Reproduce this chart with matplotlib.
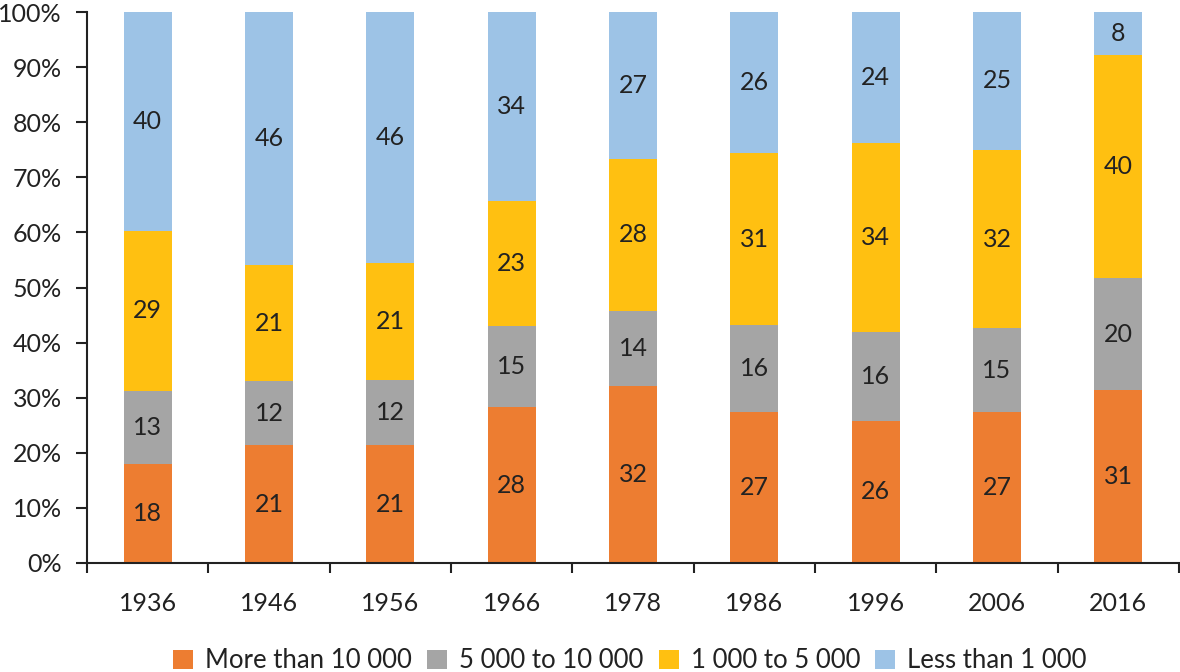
import matplotlib
matplotlib.use("Agg")
import matplotlib.pyplot as plt
import numpy as np
from matplotlib.patches import Patch

plt.rcParams["font.family"] = ["Lato", "DejaVu Sans"]

years = ["1936", "1946", "1956", "1966", "1978", "1986", "1996", "2006", "2016"]
series_names = ["More than 10 000", "5 000 to 10 000", "1 000 to 5 000", "Less than 1 000"]
more_10000 = [18.0, 21.4, 21.4, 28.3, 32.1, 27.4, 25.8, 27.4, 31.4]
from_5000_10000 = [13.2, 11.6, 11.8, 14.7, 13.7, 15.8, 16.1, 15.2, 20.3]
from_1000_5000 = [29.1, 21.1, 21.2, 22.7, 27.6, 31.2, 34.3, 32.4, 40.5]
less_1000 = [39.7, 45.9, 45.6, 34.3, 26.6, 25.6, 23.8, 25.0, 7.8]
colors = ["#ED7D31", "#A5A5A5", "#FFC011", "#9DC3E6"]

series = [more_10000, from_5000_10000, from_1000_5000, less_1000]

fig = plt.figure(figsize=(11.8, 6.72), dpi=100)
ax = fig.add_axes([87/1180, 109/672, 1092/1180, 551/672])

x = np.arange(len(years))
bottom = np.zeros(len(years))
for vals, col in zip(series, colors):
    v = np.array(vals)
    ax.bar(x, v, 0.395, bottom=bottom, color=col, zorder=2)
    for xi, b, h in zip(x, bottom, v):
        ax.text(xi, b + h / 2, f"{h:.0f}", ha="center", va="center",
                fontsize=18, color="#222222")
    bottom += v

ax.set_xlim(-0.5, len(years) - 0.5)
ax.set_ylim(0, 100)
ax.set_yticks(np.arange(0, 101, 10))
ax.set_yticklabels([f"{t}%" for t in range(0, 101, 10)], fontsize=18, color="#222222")
ax.set_xticks(x)
ax.set_xticklabels(years, fontsize=18, color="#222222")
ax.tick_params(axis="x", length=0, pad=21)
ax.set_xticks(np.arange(-0.5, len(years)), minor=True)
ax.tick_params(axis="x", which="minor", length=7.5, width=1.5, color="#222222", direction="out")
ax.tick_params(axis="y", length=8, width=1.5, color="#222222", pad=10)
for s in ["top", "right"]:
    ax.spines[s].set_visible(False)
for s in ["left", "bottom"]:
    ax.spines[s].set_linewidth(1.5)
    ax.spines[s].set_color("#222222")

handles = [Patch(facecolor=c, label=n) for c, n in zip(colors, series_names)]
fig.legend(handles=handles, loc="center", bbox_to_anchor=(630/1180, 11/672), ncol=4,
           frameon=False, prop={"size": 18.5}, handlelength=0.78,
           handleheight=0.76, handletextpad=0.47, columnspacing=0.58,
           labelcolor="#222222", borderpad=0, borderaxespad=0)

fig.savefig("out.png", dpi=100)
